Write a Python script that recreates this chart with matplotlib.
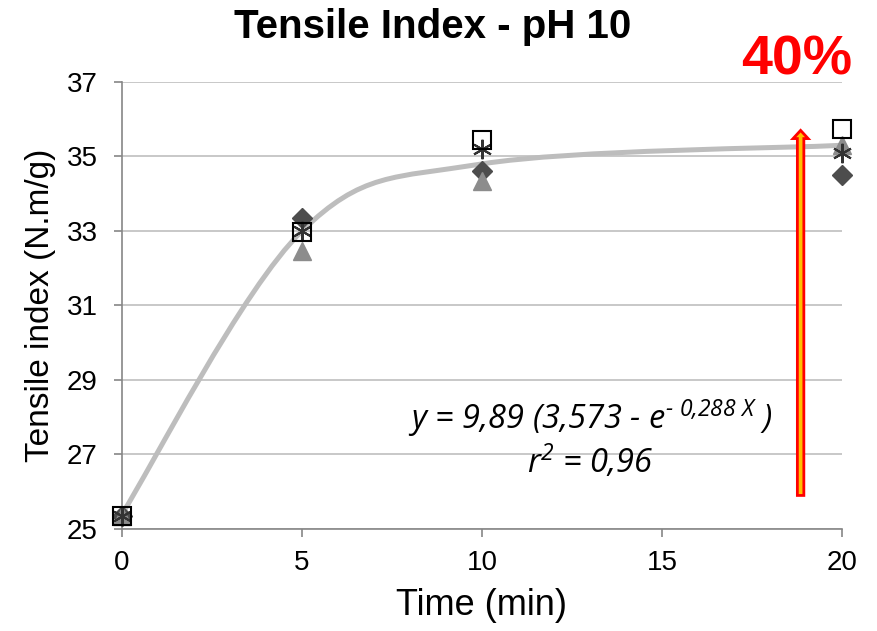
import matplotlib
matplotlib.use("Agg")
import matplotlib.pyplot as plt
from matplotlib.path import Path
from matplotlib.patches import PathPatch, FancyArrow

plt.rcParams['font.family'] = ['Liberation Sans', 'DejaVu Sans']
plt.rcParams['mathtext.fontset'] = 'custom'
plt.rcParams['mathtext.it'] = 'Open Sans:italic'
plt.rcParams['mathtext.rm'] = 'Open Sans:italic'

# measured points (four replicates)
time = [0, 5, 10, 20]
diamond = [25.35, 33.35, 34.6, 34.5]
triangle = [25.35, 32.45, 34.35, 35.3]
asterisk = [25.35, 33.0, 35.2, 35.1]
square = [25.35, 32.97, 35.45, 35.75]

# fitted model values at the same times (smoothed line, like Excel)
fit_y = [25.4, 33.0, 34.8, 35.3]

fig = plt.figure(figsize=(8.77, 6.31), dpi=100)
ax = fig.add_axes([0.1391, 0.1617, 0.821, 0.7084])

# smooth curve through fit points (Catmull-Rom -> cubic Bezier)
pts = list(zip(time, fit_y))
verts = [pts[0]]
codes = [Path.MOVETO]
for i in range(len(pts) - 1):
    p0 = pts[i - 1] if i > 0 else pts[i]
    p1 = pts[i]
    p2 = pts[i + 1]
    p3 = pts[i + 2] if i + 2 < len(pts) else pts[i + 1]
    c1 = (p1[0] + (p2[0] - p0[0]) / 6, p1[1] + (p2[1] - p0[1]) / 6)
    c2 = (p2[0] - (p3[0] - p1[0]) / 6, p2[1] - (p3[1] - p1[1]) / 6)
    verts += [c1, c2, p2]
    codes += [Path.CURVE4] * 3
ax.add_patch(PathPatch(Path(verts, codes), fill=False, edgecolor='#BDBDBD',
                       lw=3.6, zorder=2, capstyle='round'))

ax.plot(time, diamond, ls='none', marker='D', ms=10, color='#4D4D4D',
        zorder=3, clip_on=False)
ax.plot(time, triangle, ls='none', marker='^', ms=13, color='#8C8C8C',
        zorder=3, clip_on=False)
ax.plot(time, asterisk, ls='none', marker=(6, 2, 0), ms=14, mec='#333333',
        mew=1.5, zorder=4, clip_on=False)
ax.plot(time, square, ls='none', marker='s', ms=13, mfc='none', mec='black',
        mew=1.5, zorder=5, clip_on=False)

ax.set_xlim(0, 20)
ax.set_ylim(25, 37)
ax.set_xticks([0, 5, 10, 15, 20])
ax.set_yticks(range(25, 38, 2))
ax.yaxis.grid(True, color='#BFBFBF', lw=1.2)
ax.set_axisbelow(True)
for s in ['top', 'right']:
    ax.spines[s].set_visible(False)
for s in ['left', 'bottom']:
    ax.spines[s].set_color('#868686')
    ax.spines[s].set_linewidth(1.2)
ax.tick_params(direction='out', length=5.5, width=1.2, color='#868686',
               labelsize=20)
ax.tick_params(axis='y', pad=12)
ax.tick_params(axis='x', pad=10)

ax.set_xlabel('Time (min)', fontsize=26, labelpad=8)
ax.set_ylabel('Tensile index (N.m/g)', fontsize=24, labelpad=8)
fig.text(0.493, 0.957, 'Tensile Index - pH 10', fontsize=29,
         fontweight='bold', ha='center', va='center')

ax.text(13.0, 27.98, r'y = 9,89 (3,573 - e$^{\text{-}\ 0{,}288\ X}$ )',
        fontsize=23.5, style='italic', family='Open Sans', ha='center',
        va='center')
ax.text(13.0, 26.8, r'r$^2$ = 0,96', fontsize=23.5, style='italic',
        family='Open Sans', ha='center', va='center')

ax.add_patch(FancyArrow(18.85, 25.9, 0, 9.8, width=0.18, head_width=0.42,
                        head_length=0.22, length_includes_head=True,
                        fc='#FFC000', ec='red', lw=2, zorder=6, clip_on=False))

fig.text(0.908, 0.904, '40%', color='red', fontsize=40, fontweight='bold',
         ha='center', va='center')

fig.savefig('out.png', dpi=100)
